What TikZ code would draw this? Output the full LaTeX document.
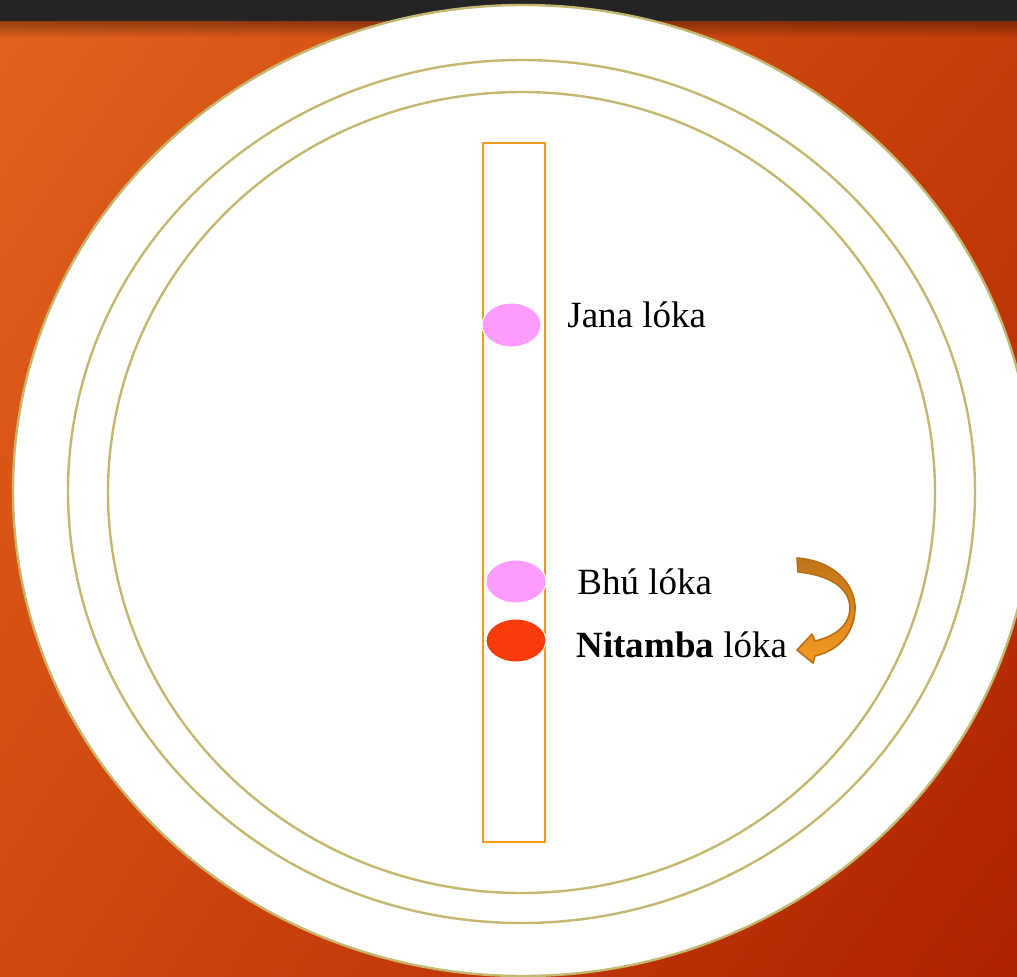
\documentclass[tikz,border=0pt]{standalone}
\usepackage{fontspec}
\setmainfont{Liberation Serif}
\usetikzlibrary{fadings,shadings}
\definecolor{bgTL}{HTML}{E2621C}
\definecolor{bgTR}{HTML}{C63E0A}
\definecolor{bgBL}{HTML}{D04A10}
\definecolor{bgBR}{HTML}{AE2200}
\definecolor{barc}{HTML}{242424}
\definecolor{ringc}{HTML}{C4B870}
\definecolor{rectc}{HTML}{F39A1E}
\definecolor{pinkc}{HTML}{FF9CFF}
\definecolor{redc}{HTML}{F93C0A}
\definecolor{arrowtop}{HTML}{C0741A}
\definecolor{arrowbot}{HTML}{F49A20}
\definecolor{arrowline}{HTML}{B86E12}
\tikzset{
  ring/.style={draw=ringc, line width=1.2pt},
  dot/.style={draw=white, line width=0.5pt},
  lbl/.style={anchor=base west, inner sep=0pt, font=\fontsize{18.5pt}{22pt}\selectfont},
}
\begin{document}
\begin{tikzpicture}[x=0.5pt,y=-0.5pt]
\useasboundingbox (0,0) rectangle (1017,976);
\begin{scope}
\clip (0,0) rectangle (1017,976);
% background
\shade[upper left=bgTL, upper right=bgTR, lower left=bgBL, lower right=bgBR] (0,0) rectangle (1017,976);
\fill[black,opacity=0.35,path fading=south] (0,21) rectangle (1017,38);
\fill[barc] (0,0) rectangle (1017,21);
% rings
\path[ring, fill=white] (523,490.5) ellipse [x radius=510, y radius=485.5];
\path[ring] (521.5,491.5) ellipse [x radius=453.5, y radius=431.5];
\path[ring] (521.5,492.5) ellipse [x radius=413.5, y radius=400.5];
\end{scope}
% pole
\node[draw=rectc, line width=1.1pt, minimum width=31pt, minimum height=349.5pt, inner sep=0pt] (pole) at (514,492.5) {};
% dots
\path[dot, fill=pinkc] (511.5,325) ellipse [x radius=29.5, y radius=22];
\path[dot, fill=pinkc] (516,581.5) ellipse [x radius=30, y radius=21.5];
\path[dot, fill=redc] (516,640.5) ellipse [x radius=30, y radius=21.5];
\coordinate (jdot) at (511.5,325);
\coordinate (bdot) at (516,581.5);
\coordinate (ndot) at (516,640.5);
% labels
\node[lbl] (jana) at (567,327) {Jana lóka};
\node[lbl] (bhu) at (577,594) {Bhú lóka};
\node[lbl] (nit) at (576,657) {\textbf{Nitamba} lóka};
% curved arrow
\shade[top color=arrowtop, bottom color=arrowbot, draw=arrowline, line width=0.8pt, line join=round]
  (797,558) .. controls (836,561) and (856,586) .. (855,610)
  .. controls (854,632) and (840,650) .. (815,656)
  -- (813,663) -- (797,650) -- (812,634) -- (815,641)
  .. controls (836,636) and (850,625) .. (850,607)
  .. controls (849,588) and (830,575) .. (798,572) -- cycle;
\end{tikzpicture}
\end{document}
